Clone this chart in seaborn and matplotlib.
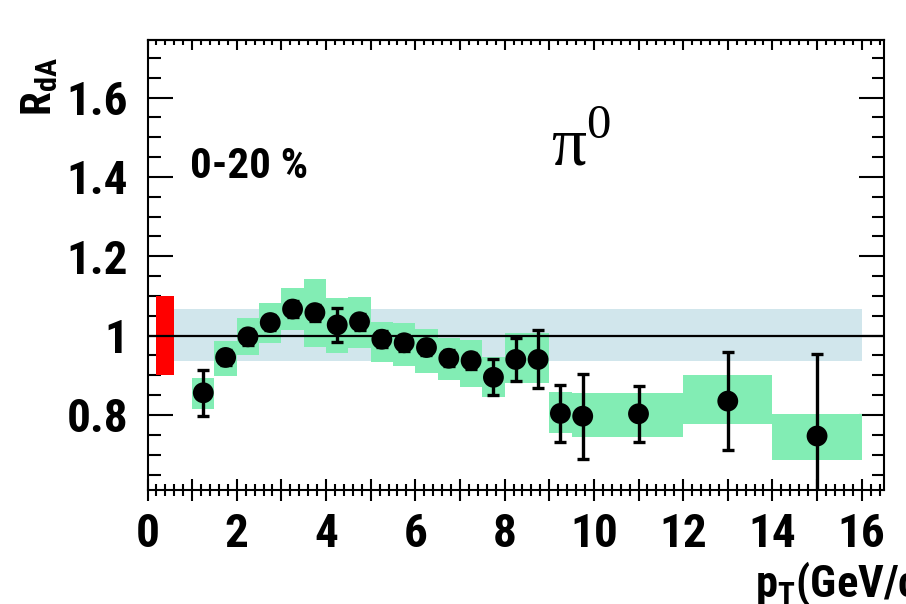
import numpy as np
import pandas as pd
import matplotlib
matplotlib.use("Agg")
import matplotlib.pyplot as plt
from matplotlib.ticker import MultipleLocator, FuncFormatter
import seaborn as sns

# ---- data ----
pt = [1.25, 1.75, 2.25, 2.75, 3.25, 3.75, 4.25, 4.75, 5.25, 5.75, 6.25,
      6.75, 7.25, 7.75, 8.25, 8.75, 9.25, 9.75, 11.0, 13.0, 15.0]
rda = [0.856, 0.945, 0.997, 1.033, 1.067, 1.058, 1.027, 1.035, 0.991, 0.982,
       0.970, 0.943, 0.937, 0.895, 0.940, 0.940, 0.804, 0.797, 0.803, 0.835, 0.747]
stat_err = [0.058, 0.02, 0.02, 0.02, 0.02, 0.02, 0.042, 0.02, 0.02, 0.02, 0.02,
            0.02, 0.02, 0.045, 0.055, 0.073, 0.072, 0.107, 0.070, 0.123, 0.206]
sys_lo = [0.814, 0.898, 0.951, 0.981, 1.014, 0.971, 0.957, 0.968, 0.934, 0.924,
          0.905, 0.888, 0.871, 0.846, 0.880, 0.880, 0.754, 0.745, 0.745, 0.777, 0.687]
sys_hi = [0.893, 0.987, 1.044, 1.083, 1.120, 1.142, 1.094, 1.098, 1.035, 1.031,
          1.016, 0.993, 0.989, 0.947, 1.006, 1.006, 0.859, 0.856, 0.856, 0.901, 0.803]
bin_lo = [1.0, 1.5, 2.0, 2.5, 3.0, 3.5, 4.0, 4.5, 5.0, 5.5, 6.0,
          6.5, 7.0, 7.5, 8.0, 8.5, 9.0, 9.5, 10.0, 12.0, 14.0]
bin_hi = [1.5, 2.0, 2.5, 3.0, 3.5, 4.0, 4.5, 5.0, 5.5, 6.0, 6.5,
          7.0, 7.5, 8.0, 8.5, 9.0, 9.5, 10.0, 12.0, 14.0, 16.0]

# global normalisation uncertainties
norm_red_x = [0.2, 0.6]
norm_red_y = [0.90, 1.10]
norm_blue_x = [0.4, 16.0]
norm_blue_y = [0.937, 1.068]

centrality_label = "0-20 %"
particle_label = r"π$^{\mathregular{0}}$"
y_label = r"R$_{\mathregular{dA}}$"
x_label = r"p$_{\mathregular{T}}$(GeV/c)"

df = pd.DataFrame({"pt": pt, "rda": rda})

# ---- style ----
sns.set_style("white")
SANS = ["DejaVu Sans Condensed", "Liberation Sans Narrow", "Roboto Condensed",
        "Liberation Sans", "DejaVu Sans"]
plt.rcParams["font.family"] = SANS
plt.rcParams["text.color"] = "black"
plt.rcParams["axes.labelcolor"] = "black"
plt.rcParams["xtick.color"] = "black"
plt.rcParams["ytick.color"] = "black"
plt.rcParams["axes.edgecolor"] = "black"

GREEN = "#82EDB4"
BLUE = "#D1E6EC"
RED = "#FF0000"

fig = plt.figure(figsize=(9.06, 6.04), dpi=100)
ax = fig.add_axes([147.5 / 906, 1 - 490 / 604, (884 - 147.5) / 906, (490 - 40) / 604])

# global bands
ax.bar(norm_blue_x[0], norm_blue_y[1] - norm_blue_y[0], bottom=norm_blue_y[0],
       width=norm_blue_x[1] - norm_blue_x[0], align="edge", color=BLUE,
       linewidth=0, zorder=1)
ax.bar(norm_red_x[0], norm_red_y[1] - norm_red_y[0], bottom=norm_red_y[0],
       width=norm_red_x[1] - norm_red_x[0], align="edge", color=RED,
       linewidth=0, zorder=2)

# systematic boxes
lo = np.array(bin_lo); hi = np.array(bin_hi)
slo = np.array(sys_lo); shi = np.array(sys_hi)
ax.bar(lo, shi - slo, bottom=slo, width=hi - lo, align="edge", color=GREEN,
       linewidth=0, zorder=2)

# reference line at 1
ax.axhline(1.0, color="black", lw=1.6, zorder=3)

# stat errors
ax.errorbar(pt, rda, yerr=stat_err, fmt="none", ecolor="black", elinewidth=2.4,
            capsize=4.5, capthick=2.4, zorder=4)
# points
sns.scatterplot(data=df, x="pt", y="rda", ax=ax, color="black", s=15 ** 2,
                marker="o", edgecolor="none", zorder=5, legend=False)

ax.set_xlim(0, 16.5)
ax.set_ylim(0.611, 1.745)
ax.set_xlabel("")
ax.set_ylabel("")

# ticks
ax.xaxis.set_major_locator(MultipleLocator(1))
ax.xaxis.set_minor_locator(MultipleLocator(0.2))
ax.xaxis.set_major_formatter(FuncFormatter(
    lambda v, p: f"{int(round(v))}" if int(round(v)) % 2 == 0 else ""))
ax.yaxis.set_major_locator(MultipleLocator(0.2))
ax.yaxis.set_minor_locator(MultipleLocator(0.05))
ax.yaxis.set_major_formatter(FuncFormatter(lambda v, p: f"{v:g}"))

ax.tick_params(axis="x", which="major", direction="inout", length=16, width=1.5,
               top=False, bottom=True, labelsize=34, pad=8)
ax.tick_params(axis="x", which="minor", direction="inout", length=8, width=1.5,
               top=False, bottom=True)
ax.tick_params(axis="y", which="major", direction="in", length=18, width=1.5,
               left=True, right=True, labelsize=34, pad=14)
ax.tick_params(axis="y", which="minor", direction="in", length=9, width=1.5,
               left=True, right=True)

top = ax.secondary_xaxis("top")
top.xaxis.set_major_locator(MultipleLocator(1))
top.xaxis.set_minor_locator(MultipleLocator(0.2))
top.tick_params(which="major", direction="in", length=7, width=1.5, labeltop=False)
top.tick_params(which="minor", direction="in", length=3.5, width=1.5)
top.spines["top"].set_linewidth(1.5)

for s in ax.spines.values():
    s.set_linewidth(1.5)
    s.set_color("black")

for lab in ax.get_xticklabels() + ax.get_yticklabels():
    lab.set_fontweight("bold")
    lab.set_fontstretch("condensed")

# annotations
ax.text(0.95, 1.398, centrality_label, fontsize=31, fontweight="bold",
        fontstretch="condensed", ha="left", va="baseline", zorder=6)
ax.text(9.72, 1.43, particle_label, fontsize=50, ha="center", va="baseline",
        family=["Liberation Serif", "DejaVu Serif"], fontweight="normal",
        zorder=6)

fig.text(40 / 906, 1 - 116 / 604, y_label, rotation=90, fontsize=31,
         fontweight="bold", fontstretch="condensed", ha="center", va="bottom")
fig.text(755 / 906, 7 / 604, x_label, fontsize=32, fontweight="bold",
         fontstretch="condensed", ha="left", va="baseline")

fig.savefig("out.png", dpi=100)
